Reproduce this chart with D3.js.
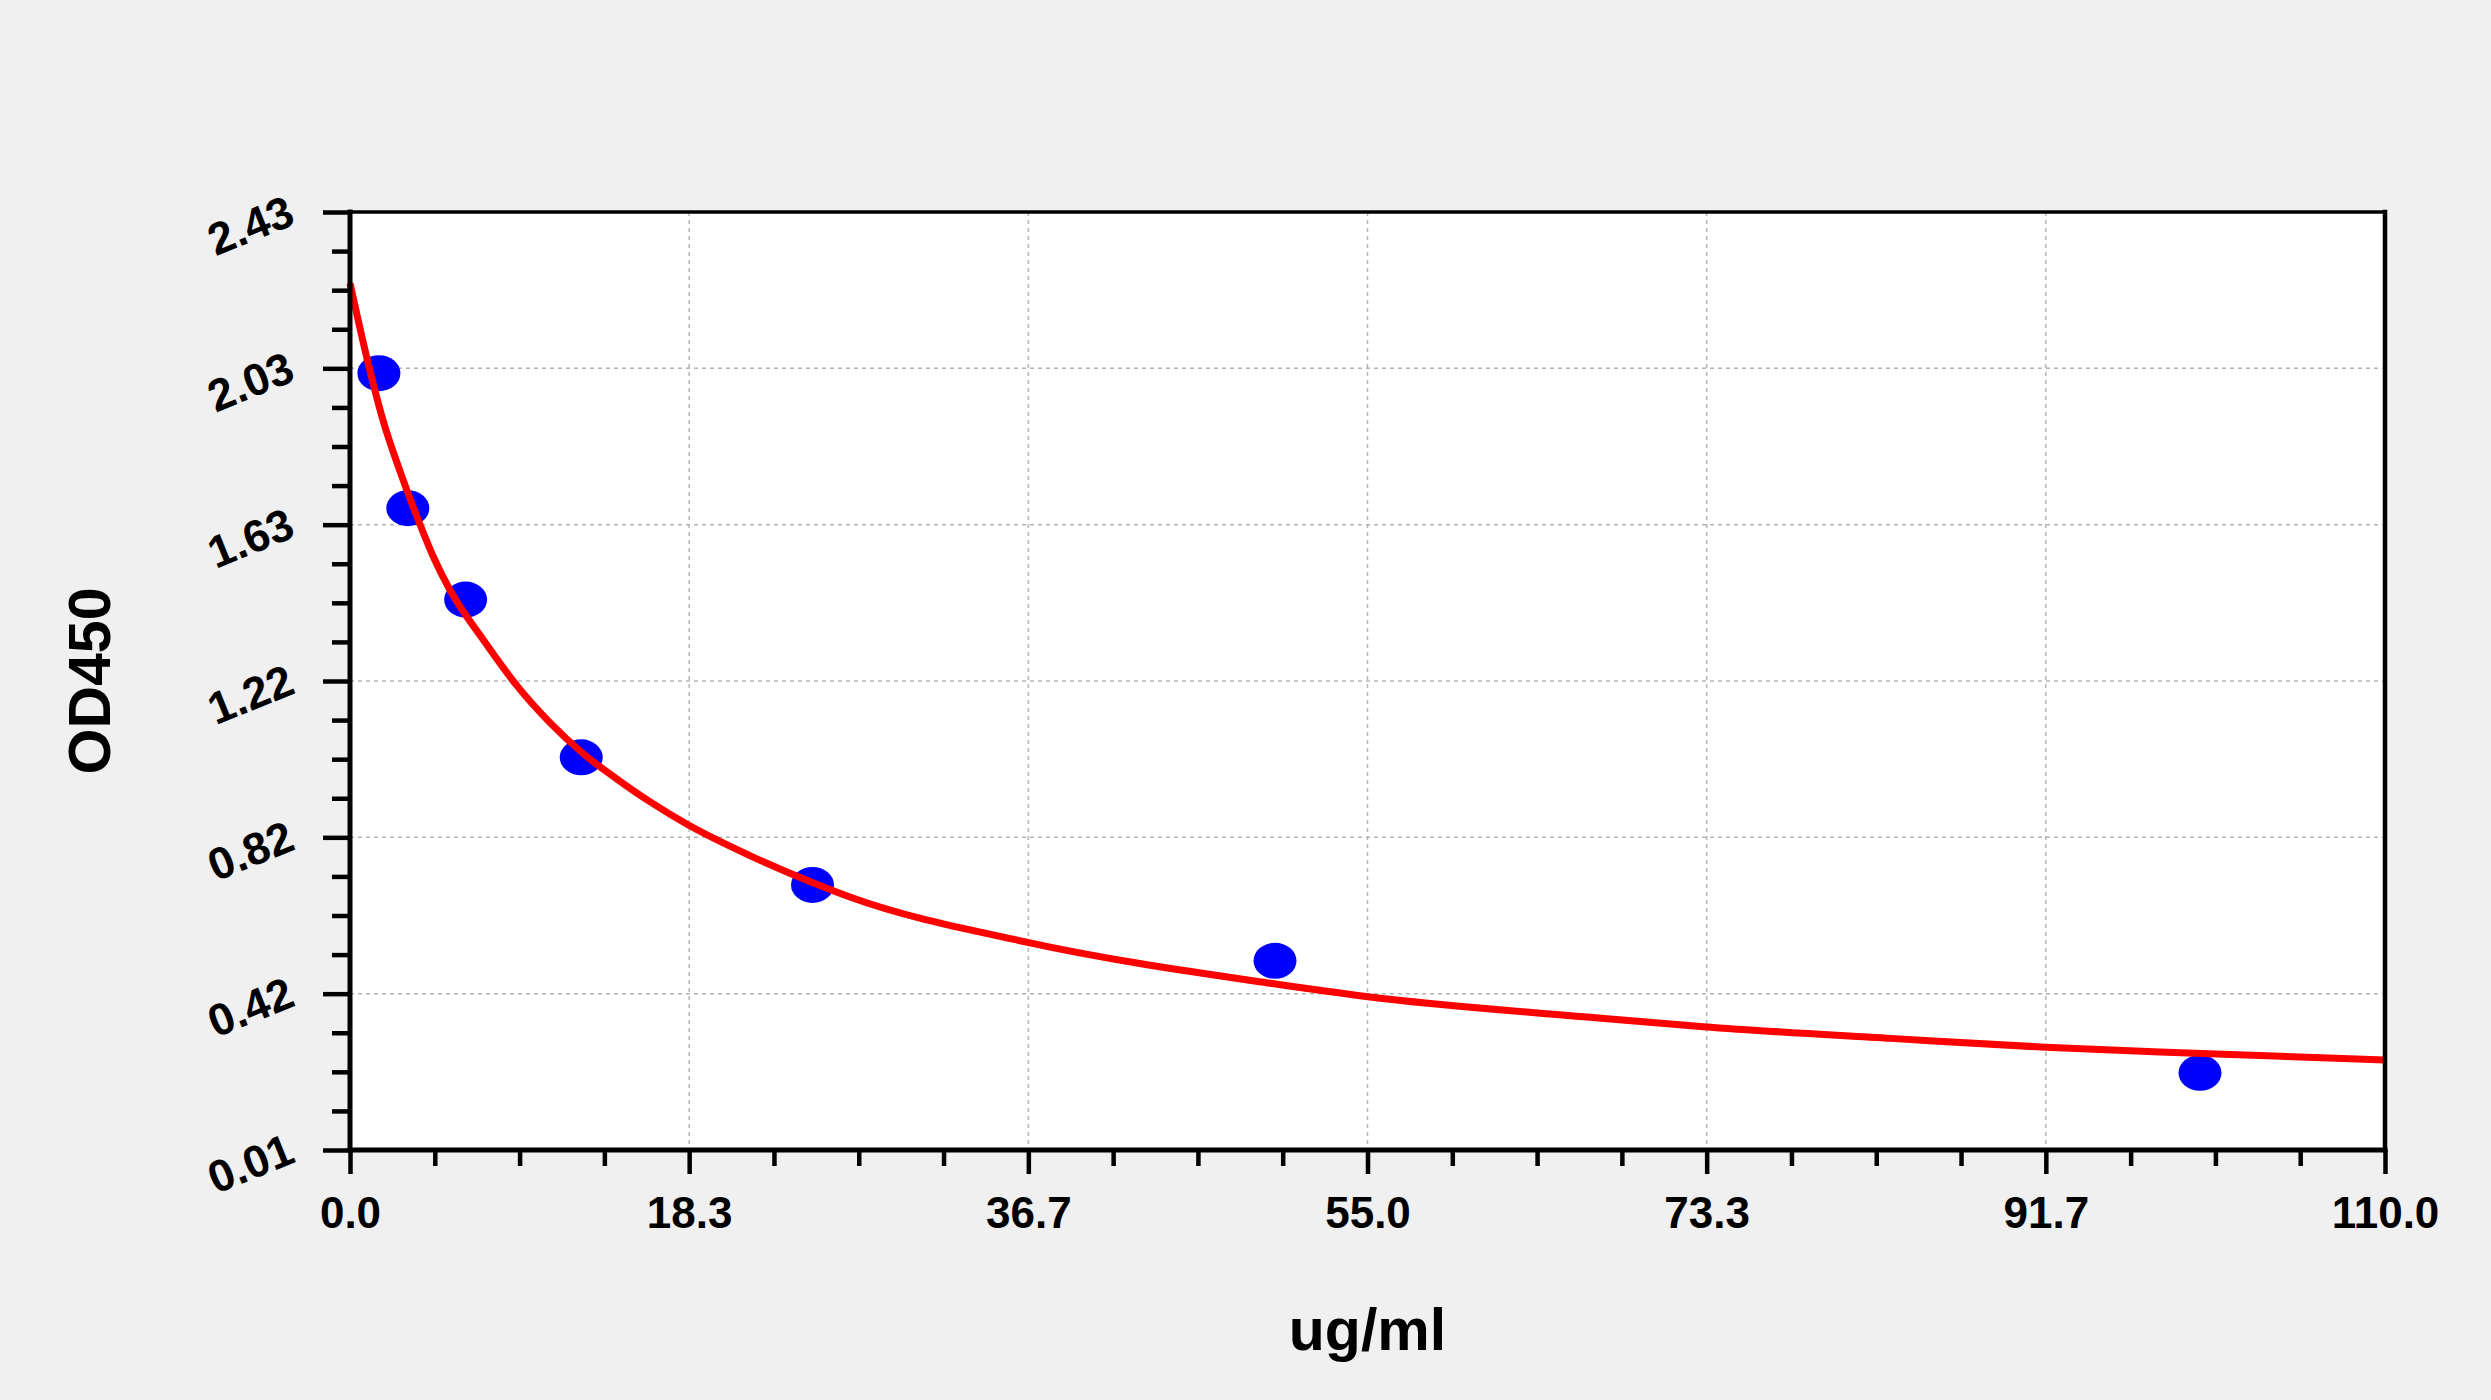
<!DOCTYPE html>
<html>
<head>
<meta charset="utf-8">
<script src="https://cdn.jsdelivr.net/npm/d3@7"></script>
<style>
  html, body { margin: 0; padding: 0; background: #f0f0f0; }
  svg { display: block; }
  text { font-family: "Liberation Sans", Arial, sans-serif; font-weight: bold; fill: #000; }
</style>
</head>
<body>
<svg id="chart" width="2491" height="1400"></svg>
<script>
// ---- data ----
const xTickValues = [0, 18.3333, 36.6667, 55, 73.3333, 91.6667, 110];
const xTickLabels = ["0.0", "18.3", "36.7", "55.0", "73.3", "91.7", "110.0"];
const yTickValues = [0.01, 0.41333, 0.81667, 1.22, 1.62333, 2.02667, 2.43];
const yTickLabels = ["0.01", "0.42", "0.82", "1.22", "1.63", "2.03", "2.43"];

const stdConc = [1.5625, 3.125, 6.25, 12.5, 25, 50, 100];
const stdOD   = [2.014, 1.666, 1.430, 1.023, 0.694, 0.498, 0.209];

const fitConc = [0, 1.08, 1.80, 2.71, 3.61, 4.51, 5.41, 7.21, 9.02, 10.82, 12.62, 14.43, 16.23, 18.27, 21.64, 24.89, 27.06, 36.5, 49.75, 54.91, 67.64, 73.15, 83.3, 91.66, 100.1, 110];
const fitOD   = [2.246, 2.020, 1.890, 1.760, 1.645, 1.540, 1.454, 1.326, 1.208, 1.112, 1.032, 0.967, 0.908, 0.849, 0.769, 0.702, 0.662, 0.547, 0.440, 0.406, 0.350, 0.328, 0.298, 0.275, 0.259, 0.242];

const xTitle = "ug/ml";
const yTitle = "OD450";

// ---- layout ----
const L = 350, R = 2385, T = 212, B = 1150;
const svg = d3.select("#chart");
const x = d3.scaleLinear().domain([0, 110]).range([L, R]);
const y = d3.scaleLinear().domain([0.01, 2.43]).range([B, T]);

function minors(vals) {
  const out = [];
  for (let i = 0; i < vals.length - 1; i++) {
    for (let k = 1; k < 4; k++) out.push(vals[i] + (vals[i + 1] - vals[i]) * k / 4);
  }
  return out;
}

// plot background
svg.append("rect").attr("x", L).attr("y", T).attr("width", R - L).attr("height", B - T).attr("fill", "#fff");

// gridlines
const grid = svg.append("g").attr("stroke", "#b4b4b4").attr("stroke-width", 1.5).attr("stroke-dasharray", "4,4");
grid.selectAll(".gx").data(xTickValues.slice(1, -1)).enter().append("line")
  .attr("x1", d => x(d)).attr("x2", d => x(d)).attr("y1", T).attr("y2", B);
grid.selectAll(".gy").data(yTickValues.slice(1, -1)).enter().append("line")
  .attr("x1", L).attr("x2", R).attr("y1", d => y(d)).attr("y2", d => y(d));

// standard points
svg.append("g").selectAll("ellipse").data(stdConc).enter().append("ellipse")
  .attr("cx", (d) => x(d)).attr("cy", (d, i) => y(stdOD[i]))
  .attr("rx", 21.5).attr("ry", 18).attr("fill", "#0000ff");

// fitted curve
const fit = fitConc.map((c, i) => [c, fitOD[i]]);
svg.append("path").datum(fit)
  .attr("fill", "none").attr("stroke", "#ff0000").attr("stroke-width", 7).attr("stroke-linejoin", "round")
  .attr("d", d3.line().x(d => x(d[0])).y(d => y(d[1])).curve(d3.curveMonotoneX));

// axes - minor ticks
const xMinor = svg.append("g").attr("transform", `translate(0,${B})`)
  .call(d3.axisBottom(x).tickValues(minors(xTickValues)).tickSize(16).tickFormat(""));
const yMinor = svg.append("g").attr("transform", `translate(${L},0)`)
  .call(d3.axisLeft(y).tickValues(minors(yTickValues)).tickSize(18).tickFormat(""));

// axes - major ticks
const xAxis = svg.append("g").attr("transform", `translate(0,${B})`)
  .call(d3.axisBottom(x).tickValues(xTickValues).tickSize(24).tickPadding(23)
    .tickFormat((d, i) => xTickLabels[i]));
xAxis.selectAll("text").attr("font-size", 44).style("font-family", '"Liberation Sans", Arial, sans-serif').style("font-weight", "bold");

const yAxis = svg.append("g").attr("transform", `translate(${L},0)`)
  .call(d3.axisLeft(y).tickValues(yTickValues).tickSize(27)
    .tickFormat((d, i) => yTickLabels[i]));
yAxis.selectAll("text")
  .attr("font-size", 45).style("font-family", '"Liberation Sans", Arial, sans-serif').style("font-weight", "bold")
  .attr("text-anchor", "end").attr("x", -53).attr("y", 11).attr("dy", null)
  .attr("transform", "rotate(-22,-53,11)");

[xMinor, yMinor, xAxis, yAxis].forEach(g => {
  g.select(".domain").remove();
  g.selectAll("line").attr("stroke", "#000").attr("stroke-width", 4.5);
});

// frame
const frame = svg.append("g").attr("stroke", "#000").attr("stroke-linecap", "square");
frame.append("line").attr("x1", L).attr("x2", R).attr("y1", T).attr("y2", T).attr("stroke-width", 3.5);
frame.append("line").attr("x1", R).attr("x2", R).attr("y1", T).attr("y2", B).attr("stroke-width", 4.5);
frame.append("line").attr("x1", L).attr("x2", L).attr("y1", T).attr("y2", B).attr("stroke-width", 5);
frame.append("line").attr("x1", L).attr("x2", R).attr("y1", B).attr("y2", B).attr("stroke-width", 5);

// titles
svg.append("text").attr("x", (L + R) / 2).attr("y", 1350).attr("text-anchor", "middle")
  .attr("font-size", 59).text(xTitle);
svg.append("text").attr("transform", `translate(110,${(T + B) / 2}) rotate(-90)`).attr("text-anchor", "middle")
  .attr("font-size", 59).text(yTitle);
</script>
</body>
</html>
